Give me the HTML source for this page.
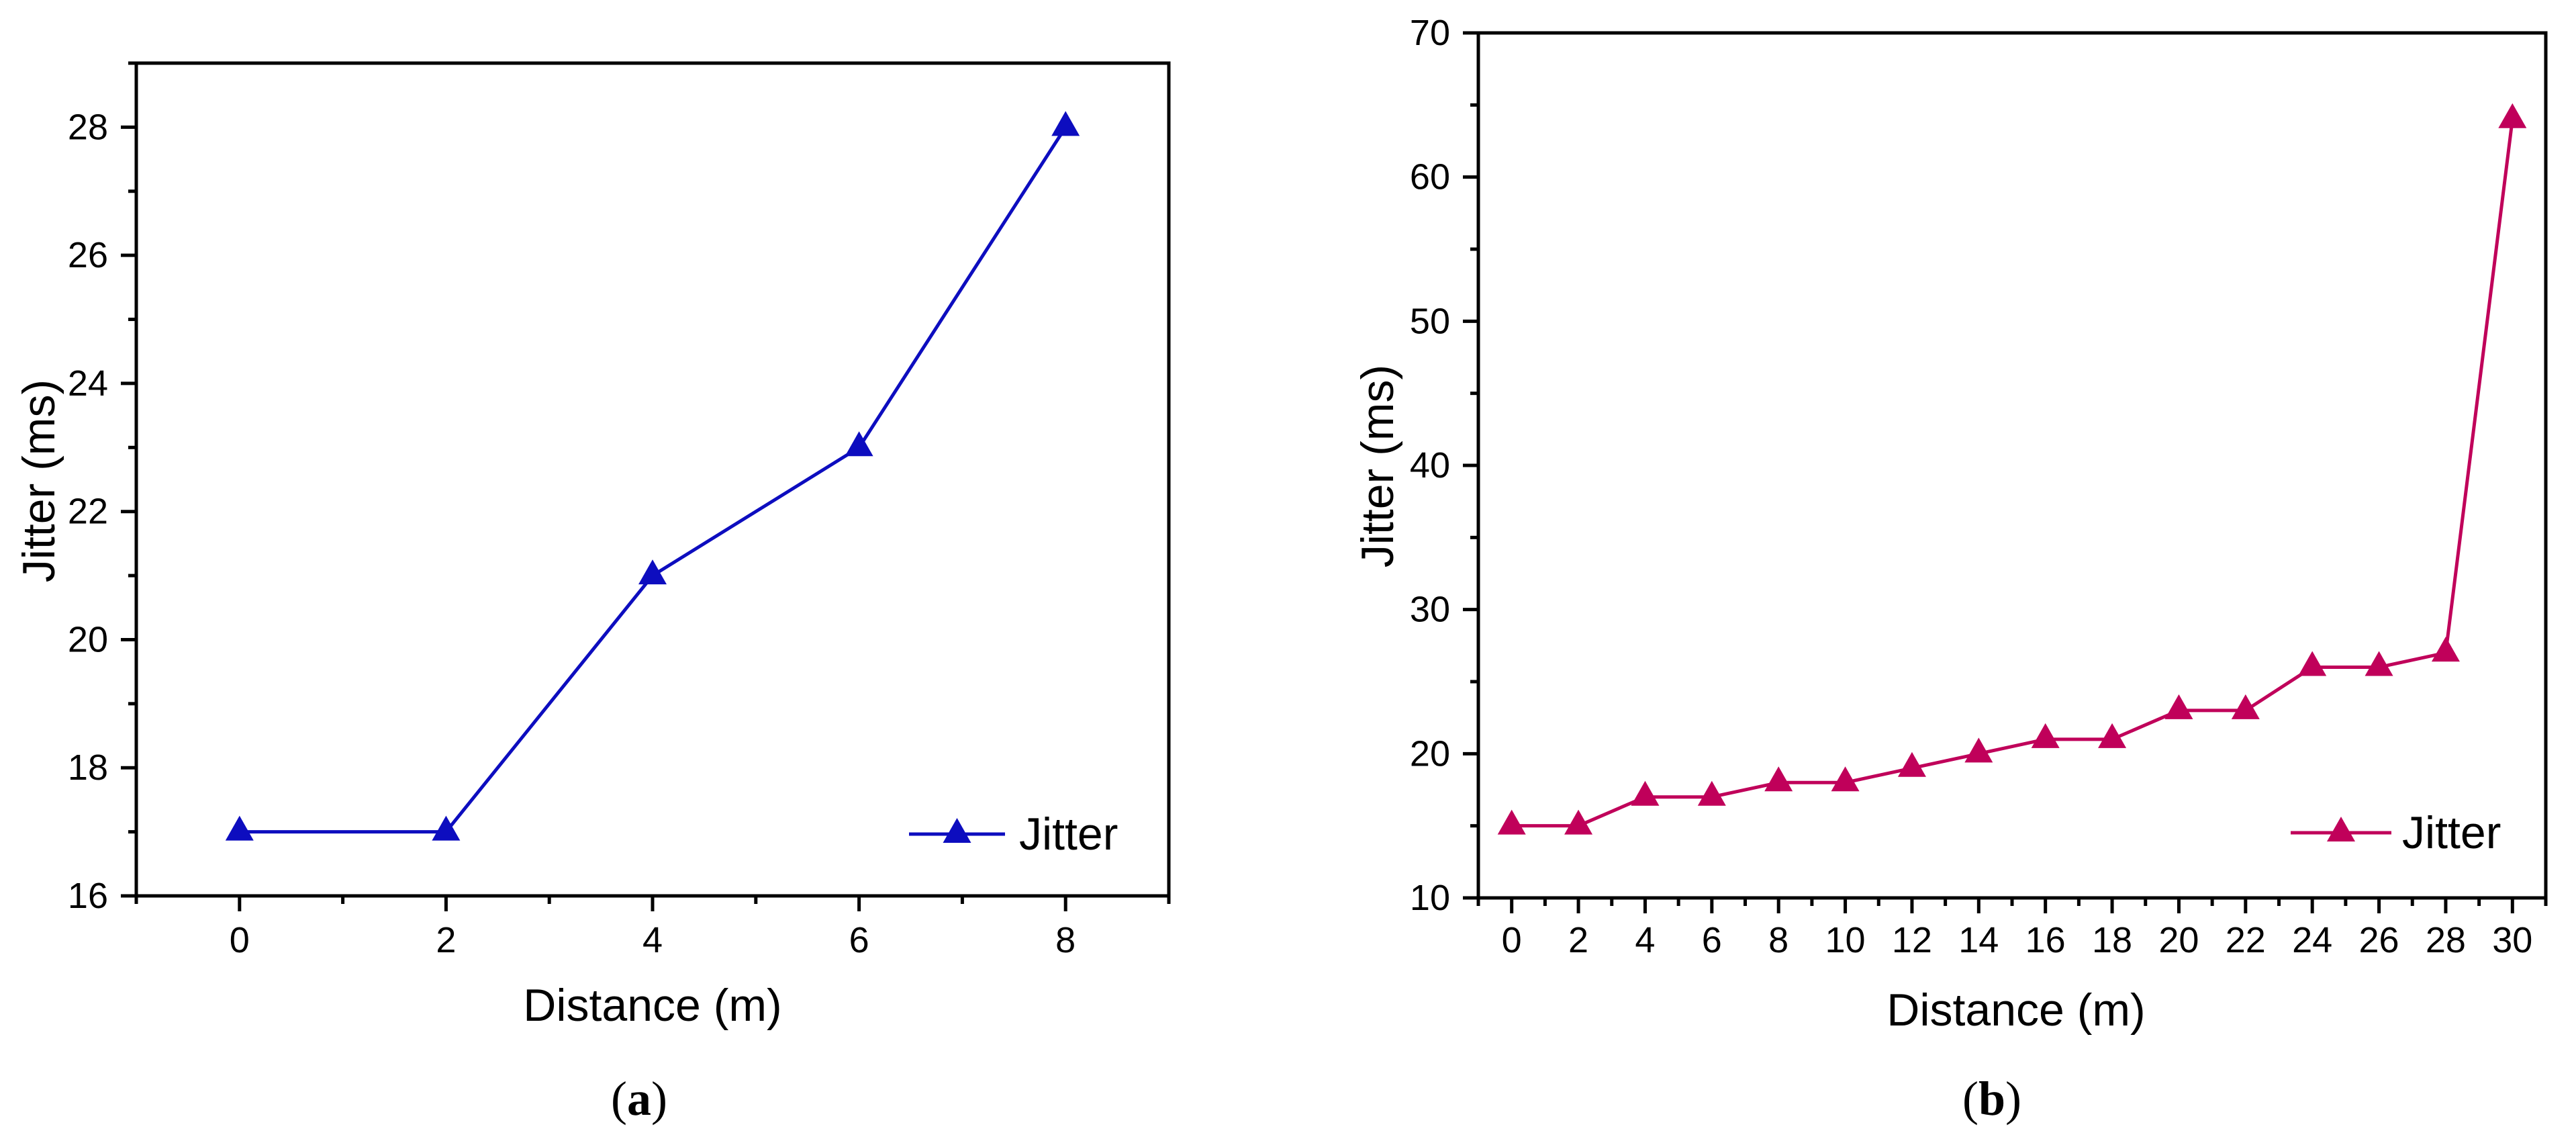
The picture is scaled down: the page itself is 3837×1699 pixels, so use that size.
<!DOCTYPE html>
<html><head><meta charset="utf-8"><style>
html,body{margin:0;padding:0;background:#fff;}
svg{display:block;font-family:"Liberation Sans",sans-serif;}
</style></head><body>
<svg id="chart" width="3837" height="1699" viewBox="0 0 3837 1699" xmlns="http://www.w3.org/2000/svg">
<rect width="3837" height="1699" fill="#fff"/>
</svg>
<script>
const aDistances = [0, 2, 4, 6, 8];
const aJitter = [17, 17, 21, 23, 28];
const aXTicks = [0, 2, 4, 6, 8];
const aYTicks = [16, 18, 20, 22, 24, 26, 28];
const bDistances = [0, 2, 4, 6, 8, 10, 12, 14, 16, 18, 20, 22, 24, 26, 28, 30];
const bJitter = [15, 15, 17, 17, 18, 18, 19, 20, 21, 21, 23, 23, 26, 26, 27, 64];
const bXTicks = [0, 2, 4, 6, 8, 10, 12, 14, 16, 18, 20, 22, 24, 26, 28, 30];
const bYTicks = [10, 20, 30, 40, 50, 60, 70];

const NS = "http://www.w3.org/2000/svg";
const svg = document.getElementById('chart');
function mk(tag, attrs, parent) {
  const e = document.createElementNS(NS, tag);
  for (const k in attrs) e.setAttribute(k, attrs[k]);
  (parent || svg).appendChild(e);
  return e;
}
function panel(cfg) {
  const g = mk('g', {});
  
  
  const sx = v => cfg.L + (v - cfg.xmin) / (cfg.xmax - cfg.xmin) * (cfg.R - cfg.L);
  const sy = v => cfg.B - (v - cfg.ymin) / (cfg.ymax - cfg.ymin) * (cfg.B - cfg.T);
  const frame = mk('rect', {x: cfg.L, y: cfg.T, width: cfg.R - cfg.L, height: cfg.B - cfg.T, fill: 'none', stroke: '#000', 'stroke-width': 5}, g);
  
  
  for (let v = cfg.xmin; v <= cfg.xmax + 1e-9; v += cfg.xMinorStep) {
    if (cfg.xTicks.includes(v)) continue;
    const t = mk('line', {x1: sx(v), x2: sx(v), y1: cfg.B, y2: cfg.B + 12, stroke: '#000', 'stroke-width': 5}, g);
    
    
  }
  cfg.xTicks.forEach(v => {
    const t = mk('line', {x1: sx(v), x2: sx(v), y1: cfg.B, y2: cfg.B + 23, stroke: '#000', 'stroke-width': 5}, g);
    
    
    const lb = mk('text', {x: sx(v), y: 1400, 'text-anchor': 'middle', 'dominant-baseline': 'central', 'font-size': 54, fill: '#000'}, g);
    lb.textContent = v;
    
    
  });
  for (let v = cfg.ymin; v <= cfg.ymax + 1e-9; v += cfg.yMinorStep) {
    if (cfg.yTicks.includes(v)) continue;
    const t = mk('line', {x1: cfg.L - 12, x2: cfg.L, y1: sy(v), y2: sy(v), stroke: '#000', 'stroke-width': 5}, g);
    
    
  }
  cfg.yTicks.forEach(v => {
    const t = mk('line', {x1: cfg.L - 23, x2: cfg.L, y1: sy(v), y2: sy(v), stroke: '#000', 'stroke-width': 5}, g);
    
    
    const lb = mk('text', {x: cfg.L - 42, y: sy(v), 'text-anchor': 'end', 'dominant-baseline': 'central', 'font-size': 54, fill: '#000'}, g);
    lb.textContent = v;
    
    
  });
  const xt = mk('text', {x: cfg.xTitleX, y: cfg.xTitleY, 'text-anchor': 'middle', 'dominant-baseline': 'central', 'font-size': 68, fill: '#000'}, g);
  xt.textContent = 'Distance (m)';
  
  
  const yt = mk('text', {x: 0, y: 0, transform: `translate(${cfg.yTitleX},${cfg.yTitleY}) rotate(-90)`, 'text-anchor': 'middle', 'dominant-baseline': 'central', 'font-size': 68, fill: '#000'}, g);
  yt.textContent = 'Jitter (ms)';
  
  
  const pts = cfg.xs.map((x, i) => sx(x) + ',' + sy(cfg.ys[i])).join(' ');
  const line = mk('polyline', {points: pts, fill: 'none', stroke: cfg.color, 'stroke-width': 5, 'stroke-linejoin': 'round'}, g);
  
  
  const tri = (cx, cy) => `${cx},${cy - 24} ${cx - 21},${cy + 13} ${cx + 21},${cy + 13}`;
  cfg.xs.forEach((x, i) => {
    const m = mk('polygon', {points: tri(sx(x), sy(cfg.ys[i])), fill: cfg.color}, g);
    
    
  });
  const lg = mk('g', {}, g);
  
  
  mk('line', {x1: cfg.legX1, x2: cfg.legX2, y1: cfg.legY, y2: cfg.legY, stroke: cfg.color, 'stroke-width': 5}, lg);
  mk('polygon', {points: tri((cfg.legX1 + cfg.legX2) / 2, cfg.legY), fill: cfg.color}, lg);
  const lt = mk('text', {x: cfg.legTX, y: cfg.legY, 'dominant-baseline': 'central', 'font-size': 68, fill: '#000'}, lg);
  lt.textContent = 'Jitter';
  const cap = mk('text', {x: cfg.capX, y: cfg.capY, 'text-anchor': 'middle', 'dominant-baseline': 'central', 'font-size': 72, 'font-family': '"Liberation Serif",serif', fill: '#000'}, g);
  cap.innerHTML = '(<tspan font-weight="bold">' + cfg.cap + '</tspan>)';
  
  
}
panel({name: 'panel-a', L: 203, R: 1741, T: 94, B: 1334, xmin: -1, xmax: 9, ymin: 16, ymax: 29,
  xTicks: aXTicks, yTicks: aYTicks, xMinorStep: 1, yMinorStep: 1, xs: aDistances, ys: aJitter, color: '#0d0dbf',
  xTitleX: 972, xTitleY: 1497, yTitleX: 58, yTitleY: 716, legX1: 1354, legX2: 1497, legY: 1242, legTX: 1518,
  capX: 952, capY: 1636, cap: 'a'});
panel({name: 'panel-b', L: 2202, R: 3792, T: 49, B: 1337, xmin: -1, xmax: 31, ymin: 10, ymax: 70,
  xTicks: bXTicks, yTicks: bYTicks, xMinorStep: 1, yMinorStep: 5, xs: bDistances, ys: bJitter, color: '#c0005a',
  xTitleX: 3003, xTitleY: 1504, yTitleX: 2052, yTitleY: 694, legX1: 3412, legX2: 3562, legY: 1240, legTX: 3578,
  capX: 2967, capY: 1636, cap: 'b'});
</script>
</body></html>
